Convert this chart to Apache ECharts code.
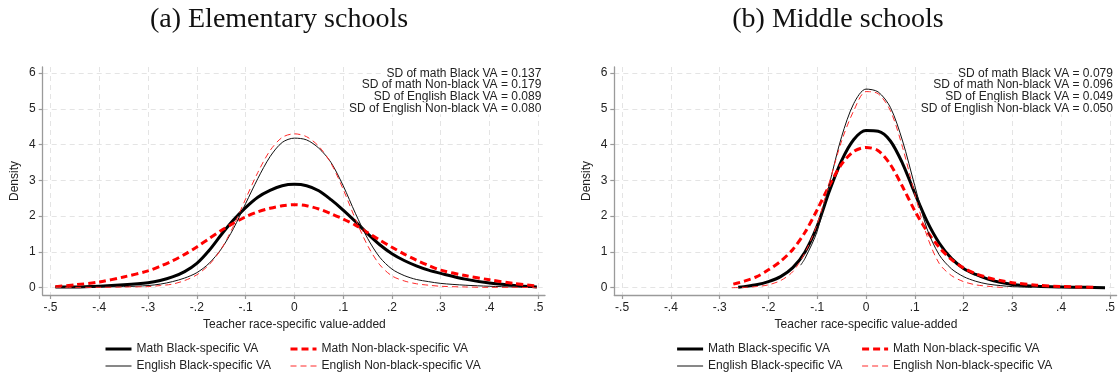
<!DOCTYPE html>
<html>
<head>
<meta charset="utf-8">
<script src="https://cdn.jsdelivr.net/npm/echarts@6/dist/echarts.min.js"></script>
<style>html,body{margin:0;padding:0;background:#fff}#c{width:1118px;height:375px}</style>
</head>
<body>
<div id="c"></div>
<script>
// ---------- data ----------
const panelTitles = ['(a) Elementary schools', '(b) Middle schools'];
const seriesNames = ['Math Black-specific VA', 'Math Non-black-specific VA', 'English Black-specific VA', 'English Non-black-specific VA'];
const xTickLabels = ['-.5', '-.4', '-.3', '-.2', '-.1', '0', '.1', '.2', '.3', '.4', '.5'];
const yTickLabels = ['0', '1', '2', '3', '4', '5', '6'];
const xAxisTitle = 'Teacher race-specific value-added';
const yAxisTitle = 'Density';
const sdElem = ['SD of math Black VA = 0.137', 'SD of math Non-black VA = 0.179', 'SD of English Black VA = 0.089', 'SD of English Non-black VA = 0.080'];
const sdMid = ['SD of math Black VA = 0.079', 'SD of math Non-black VA = 0.096', 'SD of English Black VA = 0.049', 'SD of English Non-black VA = 0.050'];

// Elementary schools
const elemX = [-0.49,-0.45,-0.4,-0.35,-0.3,-0.275,-0.25,-0.225,-0.2,-0.175,-0.15,-0.125,-0.1,-0.075,-0.05,-0.025,0,0.025,0.05,0.075,0.1,0.125,0.15,0.175,0.2,0.225,0.25,0.275,0.3,0.35,0.4,0.45,0.497];
const elemMathBlack = [0.02,0.02,0.04,0.08,0.14,0.20,0.30,0.45,0.68,1.04,1.48,1.89,2.24,2.53,2.72,2.85,2.89,2.85,2.71,2.46,2.17,1.85,1.51,1.20,0.95,0.76,0.61,0.49,0.40,0.24,0.13,0.065,0.02];
const elemMathNon = [0.03,0.08,0.16,0.30,0.47,0.60,0.75,0.93,1.14,1.37,1.60,1.80,1.98,2.12,2.22,2.29,2.32,2.29,2.20,2.07,1.92,1.75,1.54,1.33,1.13,0.94,0.77,0.62,0.49,0.34,0.22,0.12,0.05];
const elemEngBlack = [0.01,0.01,0.02,0.03,0.06,0.10,0.17,0.27,0.42,0.68,1.08,1.65,2.35,3.05,3.66,4.06,4.18,4.13,3.90,3.50,2.85,2.08,1.38,0.85,0.52,0.34,0.23,0.17,0.12,0.07,0.04,0.02,0.01];
const elemEngNon = [0.01,0.01,0.01,0.02,0.03,0.06,0.10,0.20,0.36,0.64,1.08,1.72,2.48,3.22,3.83,4.20,4.30,4.22,3.95,3.48,2.75,1.92,1.18,0.64,0.33,0.19,0.11,0.07,0.04,0.02,0.01,0.01,0.0];

// Middle schools
const midMathBlackX = [-0.262,-0.25,-0.225,-0.2,-0.175,-0.15,-0.125,-0.1,-0.075,-0.05,-0.025,0,0.025,0.05,0.075,0.1,0.125,0.15,0.175,0.2,0.225,0.25,0.275,0.3,0.35,0.4,0.45,0.49];
const midMathBlack = [0.01,0.03,0.08,0.17,0.31,0.56,1.0,1.72,2.70,3.55,4.14,4.39,4.37,4.10,3.47,2.64,1.86,1.25,0.82,0.54,0.37,0.24,0.15,0.09,0.04,0.02,0.01,0.0];
const midMathNonX = [-0.272,-0.25,-0.225,-0.2,-0.175,-0.15,-0.125,-0.1,-0.075,-0.05,-0.025,0,0.025,0.05,0.075,0.1,0.125,0.15,0.175,0.2,0.225,0.25,0.275,0.3,0.35,0.4,0.466];
const midMathNon = [0.10,0.18,0.30,0.50,0.74,1.07,1.55,2.18,2.86,3.45,3.81,3.92,3.83,3.44,2.82,2.15,1.58,1.13,0.79,0.55,0.39,0.28,0.2,0.14,0.07,0.035,0.01];
const midEngBlackX = [-0.134,-0.125,-0.1,-0.075,-0.05,-0.025,0,0.025,0.05,0.075,0.1,0.125,0.15,0.175,0.2,0.225,0.25,0.275,0.3,0.34];
const midEngBlack = [0.63,0.82,1.58,2.9,4.22,5.15,5.55,5.47,5.04,4.1,2.85,1.65,0.92,0.53,0.31,0.18,0.10,0.06,0.03,0.01];
const midEngNonX = [-0.275,-0.25,-0.225,-0.2,-0.175,-0.15,-0.125,-0.1,-0.075,-0.05,-0.025,0,0.025,0.05,0.075,0.1,0.125,0.15,0.175,0.2,0.225,0.25,0.275,0.29];
const midEngNon = [0.0,0.01,0.03,0.08,0.2,0.45,0.98,1.78,2.95,4.1,4.95,5.48,5.42,4.95,3.92,2.62,1.45,0.68,0.34,0.17,0.08,0.04,0.01,0.0];

// ---------- layout / style ----------
const SANS = 'Liberation Sans, Arial, Helvetica, sans-serif';
const AXIS_COLOR = '#9a9a9a';
const GRID_COLOR = '#e4e4e4';
const TEXT_COLOR = '#222';
const styles = [
  { color: '#000000', width: 3, type: 'solid' },
  { color: '#ff0000', width: 3, type: [7, 4] },
  { color: '#111111', width: 1, type: 'solid' },
  { color: '#ff2a2a', width: 1, type: [6, 4] }
];
const panelDX = [0, 571.6];
const PL = 42.7, PR = 545, PT = 67, PB = 295;     // plot region
const DX0 = 50.5, DX1 = 538.3, DY0 = 287.7, DY6 = 73; // data anchors

const xPerUnit = (DX1 - DX0) / 1.0;
const yPerUnit = (DY0 - DY6) / 6;

const panels = [
  { sd: sdElem, data: [[elemX, elemMathBlack], [elemX, elemMathNon], [elemX, elemEngBlack], [elemX, elemEngNon]] },
  { sd: sdMid, data: [[midMathBlackX, midMathBlack], [midMathNonX, midMathNon], [midEngBlackX, midEngBlack], [midEngNonX, midEngNon]] }
];

const grid = [], xAxis = [], yAxis = [], series = [], graphic = [], legend = [];

panels.forEach((p, pi) => {
  const dx = panelDX[pi];
  // grid D: data + axis lines (plot region)
  grid.push({ left: PL + dx, top: PT, width: PR - PL, height: PB - PT });
  xAxis.push({
    type: 'value', gridIndex: 3 * pi, position: 'bottom',
    min: -0.5 - (DX0 - PL) / xPerUnit, max: 0.5 + (PR - DX1) / xPerUnit,
    axisLine: { show: true, onZero: false, lineStyle: { color: AXIS_COLOR, width: 1.3 } },
    axisTick: { show: false }, axisLabel: { show: false }, splitLine: { show: false }
  });
  yAxis.push({
    type: 'value', gridIndex: 3 * pi, position: 'left',
    min: -(PB - DY0) / yPerUnit, max: 6 + (DY6 - PT) / yPerUnit,
    axisLine: { show: true, onZero: false, lineStyle: { color: AXIS_COLOR, width: 1.3 } },
    axisTick: { show: false }, axisLabel: { show: false }, splitLine: { show: false }
  });
  // grid B: x ticks, labels, vertical grid lines
  grid.push({ left: DX0 + dx, top: PT, width: DX1 - DX0, height: PB - PT });
  xAxis.push({
    type: 'value', gridIndex: 3 * pi + 1, position: 'bottom', min: -0.5, max: 0.5, interval: 0.1,
    axisLine: { show: false, onZero: false },
    axisTick: { show: true, length: 4, lineStyle: { color: AXIS_COLOR, width: 1.2 } },
    axisLabel: { show: true, margin: 7, color: TEXT_COLOR, fontSize: 12, fontFamily: SANS,
      formatter: v => xTickLabels[Math.round(v * 10) + 5] },
    splitLine: { show: true, lineStyle: { color: GRID_COLOR, width: 1, type: [5, 4] } }
  });
  yAxis.push({ type: 'value', gridIndex: 3 * pi + 1, show: false, min: 0, max: 1, splitLine: { show: false } });
  // grid C: y ticks, labels, horizontal grid lines
  grid.push({ left: PL + dx, top: DY6, width: PR - PL, height: DY0 - DY6 });
  xAxis.push({ type: 'value', gridIndex: 3 * pi + 2, show: false, min: 0, max: 1, splitLine: { show: false } });
  yAxis.push({
    type: 'value', gridIndex: 3 * pi + 2, position: 'left', min: 0, max: 6, interval: 1,
    axisLine: { show: false, onZero: false },
    axisTick: { show: true, length: 4, lineStyle: { color: AXIS_COLOR, width: 1.2 } },
    axisLabel: { show: true, margin: 7, color: TEXT_COLOR, fontSize: 12, fontFamily: SANS,
      formatter: v => yTickLabels[Math.round(v)] },
    splitLine: { show: true, lineStyle: { color: GRID_COLOR, width: 1, type: [5, 4] } }
  });

  p.data.forEach((d, si) => {
    const s = styles[si];
    series.push({
      type: 'line', name: seriesNames[si],
      xAxisIndex: 3 * pi, yAxisIndex: 3 * pi,
      data: d[0].map((x, i) => [x, d[1][i]]),
      symbol: 'none', smooth: 0.3, clip: false, silent: true, animation: false,
      lineStyle: { color: s.color, width: s.width, type: s.type, cap: 'butt', join: 'round' },
      itemStyle: { color: s.color },
      z: si < 2 ? 3 : 4
    });
  });

  // texts
  graphic.push({ type: 'text', x: [279, 838][pi], y: 20, z: 10,
    style: { text: panelTitles[pi], fill: '#111', font: '28px "Liberation Serif", "Times New Roman", serif', textAlign: 'center', textVerticalAlign: 'middle' } });
  graphic.push({ type: 'text', x: 15 + dx, y: 181, rotation: Math.PI / 2, z: 10,
    style: { text: yAxisTitle, fill: TEXT_COLOR, font: '12px ' + SANS, textAlign: 'center', textVerticalAlign: 'middle' } });
  graphic.push({ type: 'text', x: (DX0 + DX1) / 2 + dx, y: 324.5, z: 10,
    style: { text: xAxisTitle, fill: TEXT_COLOR, font: '12px ' + SANS, textAlign: 'center', textVerticalAlign: 'middle' } });
  p.sd.forEach((t, i) => {
    graphic.push({ type: 'text', x: 543.3 + dx, y: 73.3 + i * 11.67, z: 10,
      style: { text: t, fill: TEXT_COLOR, font: '12px ' + SANS, textAlign: 'right', textVerticalAlign: 'middle',
        backgroundColor: '#ffffff', padding: [0, 2, 0, 2] } });
  });

  // legends: two columns
  [[0, 2], [1, 3]].forEach((cols, ci) => {
    legend.push({
      orient: 'vertical', left: [104, 289][ci] + dx, top: 342, padding: 0,
      itemWidth: 26, itemHeight: 14, itemGap: 3, selectedMode: false,
      textStyle: { color: TEXT_COLOR, fontSize: 12, fontFamily: SANS, lineHeight: 14 },
      itemStyle: { opacity: 0 },
      data: cols.map(k => ({
        name: seriesNames[k],
        itemStyle: { opacity: 0 },
        lineStyle: { color: styles[k].color, width: styles[k].width, type: styles[k].type, opacity: 1 }
      }))
    });
  });
});

const chart = echarts.init(document.getElementById('c'), null, { renderer: 'canvas' });
chart.setOption({
  animation: false,
  backgroundColor: '#fff',
  grid, xAxis, yAxis, series, graphic, legend
});
</script>
</body>
</html>
